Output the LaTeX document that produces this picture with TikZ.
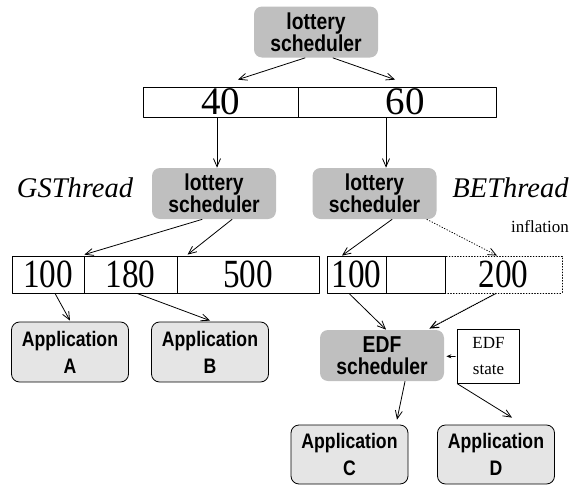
\documentclass[tikz,border=0pt]{standalone}
\usepackage{fontspec}
\setmainfont{Liberation Serif}
\newfontfamily\schedsans[FakeStretch=0.84]{Liberation Sans}
\newfontfamily\narrowserif[FakeStretch=0.83]{Liberation Serif}
\usetikzlibrary{arrows.meta}
\definecolor{schedgray}{gray}{0.75}
\definecolor{appgray}{gray}{0.9}
\begin{document}
\begin{tikzpicture}[x=1pt,y=-1pt,line join=round,line cap=round,line width=0.8pt,>={Straight Barb[length=8pt,width=7pt]},
	sched/.style={fill=schedgray,rounded corners=8pt,minimum width=124pt,minimum height=51pt,inner sep=0pt,align=center,font=\schedsans\bfseries\fontsize{23}{19.5}\selectfont},
	app/.style={draw,fill=appgray,rounded corners=8pt,minimum width=117pt,minimum height=60pt,inner sep=0pt,align=center,font=\schedsans\bfseries\fontsize{21}{27}\selectfont},
	cell/.style={draw,minimum height=30pt,inner sep=0pt,font=\fontsize{39}{39}\selectfont},
	subcell/.style={draw,minimum height=37pt,inner sep=0pt,font=\narrowserif\fontsize{40}{40}\selectfont},
	thread/.style={anchor=base,inner sep=0pt,font=\itshape\fontsize{28.5}{28.5}\selectfont},
	note/.style={inner sep=0pt,align=center,font=\fontsize{17}{26}\selectfont}]
				\useasboundingbox (0,0) rectangle (574,485);
				% schedulers
				\node[sched] (topsched) at (316,32) {lottery\\scheduler};
				\node[sched] (gsched) at (214,193.5) {lottery\\scheduler};
				\node[sched] (besched) at (374.5,193.5) {lottery\\scheduler};
				\node[sched,font=\schedsans\bfseries\fontsize{23}{21.5}\selectfont] (edf) at (382,355.5) {EDF\\scheduler};
				\node[thread] (gslabel) at (75,197.3) {GSThread};
				\node[thread] (belabel) at (510.5,197) {BEThread};
				\node[note,anchor=base] (infl) at (540,232) {inflation};
				\node[note,draw,minimum width=61.6pt,minimum height=54pt] (state) at (488.5,356.3) {EDF\\state};
				% ticket tables
				\node[cell,minimum width=155pt] (c40) at (220.5,102) {40};
				\node[cell,minimum width=198pt] (c60) at (397,102) {\hspace*{16pt}60};
				\node[subcell,minimum width=72pt] (a100) at (48,274.5) {100};
				\node[subcell,minimum width=93pt] (a180) at (130.5,274.5) {180};
				\node[subcell,minimum width=142pt] (a500) at (248,274.5) {500};
				\node[subcell,dotted,minimum width=117pt] (b200) at (503.5,274.5) {200};
				\node[subcell,minimum width=59pt] (b100) at (356.5,274.5) {100};
				\node[subcell,minimum width=59pt] (bfree) at (415.5,274.5) {};
				% applications
				\node[app] (appA) at (70,352) {Application\\A};
				\node[app] (appB) at (210,352) {Application\\B};
				\node[app,minimum height=59pt] (appC) at (349.5,454.5) {Application\\C};
				\node[app,minimum height=59pt] (appD) at (496,454.5) {Application\\D};
				% connectors
				\draw[->]([xshift=-11pt]topsched.south)--([xshift=17.5pt,yshift=7pt]c40.north);
				\draw[->]([xshift=17pt]topsched.south)--([xshift=-2pt,yshift=7pt]c60.north);
				\draw[->]([xshift=3pt]gsched.north |- c40.south)--([xshift=3pt]gsched.north);
				\draw[->]([xshift=11.5pt]besched.north |- c60.south)--([xshift=11.5pt]besched.north);
				\draw[->]([xshift=-12pt]gsched.south)--([yshift=1pt]a100.north east);
				\draw[->]([xshift=18pt]gsched.south)--([xshift=11pt,yshift=1pt]a500.north west);
				\draw[->]([xshift=17.5pt]besched.south)--([xshift=-14.5pt]b100.north);
				\draw[->,dotted]([xshift=-10pt]besched.south east)--([xshift=-6.5pt]b200.north);
				\draw[->]([xshift=7pt]a100.south)--([yshift=1pt]appA.north);
				\draw[->]([xshift=6.5pt]a180.south)--([yshift=1pt]appB.north);
				\draw[->]([xshift=-7.5pt]b100.south)--([xshift=4pt]edf.north);
				\draw[->,densely dotted,line width=1.1pt]([xshift=-7.5pt]b200.south)--([xshift=-15pt,yshift=1pt]edf.north east);
				\draw[-{Stealth[length=5pt,width=4pt]},shorten >=2pt,shorten <=2pt](state.west)--(state.west -| edf.east);
				\draw[->]([xshift=23pt]edf.south)--([xshift=47.5pt,yshift=5pt]appC.north);
				\draw[->](state.south west)--([xshift=16pt,yshift=7pt]appD.north);
			\end{tikzpicture}
\end{document}
